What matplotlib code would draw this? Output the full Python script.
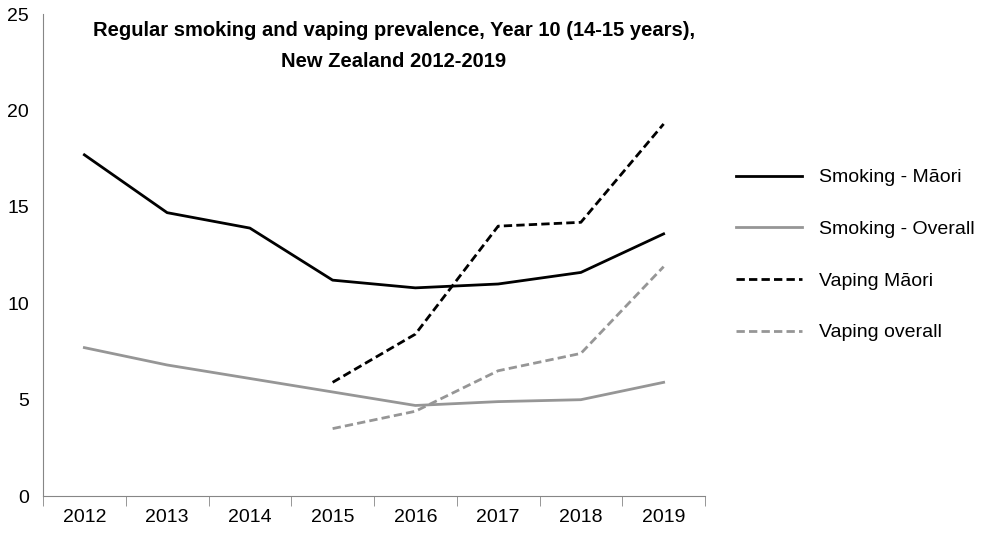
import numpy as np
import matplotlib.pyplot as plt

years = ["2012", "2013", "2014", "2015", "2016", "2017", "2018", "2019"]
smoking_maori = [17.7, 14.7, 13.9, 11.2, 10.8, 11.0, 11.6, 13.6]
smoking_overall = [7.7, 6.8, 6.1, 5.4, 4.7, 4.9, 5.0, 5.9]
vaping_years = ["2015", "2016", "2017", "2018", "2019"]
vaping_maori = [5.9, 8.4, 14.0, 14.2, 19.3]
vaping_overall = [3.5, 4.4, 6.5, 7.4, 11.9]

plt.rcParams["font.family"] = "Liberation Sans"

fig = plt.figure(figsize=(10, 5.41), dpi=100)
ax = fig.add_axes([0.043, 0.083, 0.662, 0.891])

x = np.arange(len(years))
xv = np.array([years.index(y) for y in vaping_years])

ax.plot(x, smoking_maori, color="black", lw=2, label="Smoking - Māori")
ax.plot(x, smoking_overall, color="#969696", lw=2, label="Smoking - Overall")
ax.plot(xv, vaping_maori, color="black", lw=2, ls=(0, (3, 1.5)), label="Vaping Māori")
ax.plot(xv, vaping_overall, color="#969696", lw=2, ls=(0, (3, 1.5)), label="Vaping overall")

ax.set_xlim(-0.5, len(years) - 0.5)
ax.set_ylim(0, 25)
ax.set_yticks(range(0, 26, 5))
ax.set_xticks(x)
ax.set_xticklabels(years)
ax.set_xticks(np.arange(-0.5, len(years), 1), minor=True)
ax.tick_params(axis="x", which="major", length=0, labelsize=14, pad=9)
ax.tick_params(axis="x", which="minor", length=7, color="#868686")
ax.tick_params(axis="y", length=0, labelsize=14, pad=10)

for s in ["top", "right"]:
    ax.spines[s].set_visible(False)
for s in ["left", "bottom"]:
    ax.spines[s].set_color("#868686")

ax.text(0.53, 0.985, "Regular smoking and vaping prevalence, Year 10 (14-15 years),\nNew Zealand 2012-2019",
        transform=ax.transAxes, ha="center", va="top", fontsize=14.5, fontweight="bold", linespacing=1.75)

ax.legend(loc="center left", bbox_to_anchor=(1.02, 0.5), frameon=False, fontsize=14,
          handlelength=3.4, handletextpad=0.9, labelspacing=1.75)

fig.savefig("out.png")
